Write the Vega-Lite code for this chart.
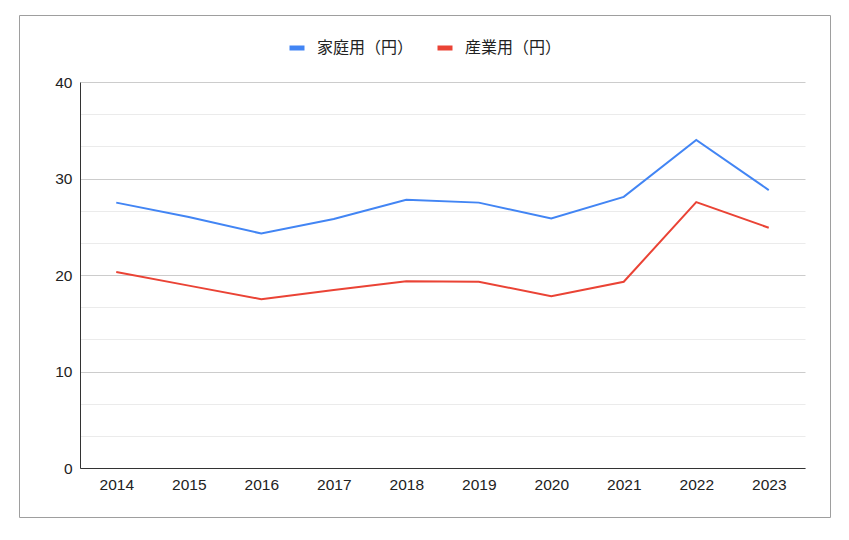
{
  "$schema": "https://vega.github.io/schema/vega-lite/v6.json",
  "autosize": "none",
  "width": 811,
  "height": 502,
  "padding": {"left": 19, "top": 15, "right": 19, "bottom": 23},
  "background": "white",
  "data": {
    "values": [
      {"year": "2014", "type": "家庭用（円）", "value": 27.5},
      {"year": "2015", "type": "家庭用（円）", "value": 26.0},
      {"year": "2016", "type": "家庭用（円）", "value": 24.3},
      {"year": "2017", "type": "家庭用（円）", "value": 25.8},
      {"year": "2018", "type": "家庭用（円）", "value": 27.8},
      {"year": "2019", "type": "家庭用（円）", "value": 27.5},
      {"year": "2020", "type": "家庭用（円）", "value": 25.85},
      {"year": "2021", "type": "家庭用（円）", "value": 28.1},
      {"year": "2022", "type": "家庭用（円）", "value": 34.0},
      {"year": "2023", "type": "家庭用（円）", "value": 28.8},
      {"year": "2014", "type": "産業用（円）", "value": 20.3},
      {"year": "2015", "type": "産業用（円）", "value": 18.9},
      {"year": "2016", "type": "産業用（円）", "value": 17.5},
      {"year": "2017", "type": "産業用（円）", "value": 18.45},
      {"year": "2018", "type": "産業用（円）", "value": 19.35},
      {"year": "2019", "type": "産業用（円）", "value": 19.3},
      {"year": "2020", "type": "産業用（円）", "value": 17.8},
      {"year": "2021", "type": "産業用（円）", "value": 19.3},
      {"year": "2022", "type": "産業用（円）", "value": 27.55},
      {"year": "2023", "type": "産業用（円）", "value": 24.9}
    ]
  },
  "mark": {"type": "line", "strokeWidth": 2, "interpolate": "linear"},
  "encoding": {
    "x": {
      "field": "year",
      "type": "ordinal",
      "scale": {"type": "point", "padding": 0.5, "range": [61, 786]},
      "axis": {
        "title": null,
        "labelAngle": 0,
        "ticks": false,
        "grid": false,
        "offset": -49,
        "domainColor": "#333333",
        "domainWidth": 1,
        "labelFont": "Liberation Sans",
        "labelFontSize": 15.5,
        "labelColor": "#222222",
        "labelPadding": 9
      }
    },
    "y": {
      "field": "value",
      "type": "quantitative",
      "scale": {"domain": [0, 40], "nice": false, "range": [453, 67]},
      "axis": {
        "title": null,
        "values": [0, 3.3333333, 6.6666667, 10, 13.333333, 16.666667, 20, 23.333333, 26.666667, 30, 33.333333, 36.666667, 40],
        "labelExpr": "datum.value % 10 === 0 ? datum.label : ''",
        "ticks": false,
        "grid": true,
        "offset": -61,
        "gridColor": {"condition": {"test": "datum.value % 10 === 0", "value": "#cccccc"}, "value": "#ebebeb"},
        "gridWidth": 1,
        "domainColor": "#333333",
        "domainWidth": 1,
        "labelFont": "Liberation Sans",
        "labelFontSize": 15.5,
        "labelColor": "#222222",
        "labelPadding": 8
      }
    },
    "color": {
      "field": "type",
      "type": "nominal",
      "scale": {"domain": ["家庭用（円）", "産業用（円）"], "range": ["#4285F4", "#EA4335"]},
      "legend": {
        "title": null,
        "orient": "none",
        "direction": "horizontal",
        "legendX": 268,
        "legendY": 23,
        "symbolType": "stroke",
        "symbolStrokeWidth": 5,
        "symbolSize": 225,
        "labelFont": "Noto Sans CJK JP",
        "labelFontSize": 16,
        "labelColor": "#222222",
        "labelOffset": 10,
        "columnPadding": 13
      }
    }
  },
  "config": {"view": {"stroke": "#9e9e9e", "strokeWidth": 1}}
}
